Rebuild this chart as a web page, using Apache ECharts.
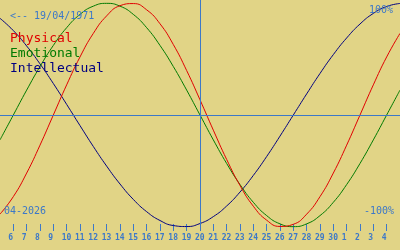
<!DOCTYPE html>
<html>
<head>
<meta charset="utf-8">
<script src="https://cdn.jsdelivr.net/npm/echarts@6/dist/echarts.min.js"></script>
<style>
html,body{margin:0;padding:0;background:#e1d486;}
#c{width:400px;height:250px;}
</style>
</head>
<body>
<div id="c"></div>
<script>
// Days: index 0 = 5 April 2026 ... index 30 = 5 May 2026
var dayIndex = [0,1,2,3,4,5,6,7,8,9,10,11,12,13,14,15,16,17,18,19,20,21,22,23,24,25,26,27,28,29,30];
var physical = [-88.8,-73.1,-52.0,-27.0,0,27.0,52.0,73.1,88.8,97.9,99.8,94.2,81.7,63.1,39.8,13.6,-13.6,-39.8,-63.1,-81.7,-94.2,-99.8,-97.9,-88.8,-73.1,-52.0,-27.0,0,27.0,52.0,73.1];
var emotional = [-22.3,0,22.3,43.4,62.3,78.2,90.1,97.5,100,97.5,90.1,78.2,62.3,43.4,22.3,0,-22.3,-43.4,-62.3,-78.2,-90.1,-97.5,-100,-97.5,-90.1,-78.2,-62.3,-43.4,-22.3,0,22.3];
var intellectual = [86.6,75.6,61.8,45.8,28.2,9.5,-9.5,-28.2,-45.8,-61.8,-75.6,-86.6,-94.5,-99.0,-99.9,-97.2,-91.0,-81.5,-69.0,-54.1,-37.2,-18.9,0,18.9,37.2,54.1,69.0,81.5,91.0,97.2,99.9];
// tick labels for index 1..29
var tickLabels = ['6','7','8','9','10','11','12','13','14','15','16','17','18','19','20','21','22','23','24','25','26','27','28','29','30','1','2','3','4'];
var todayIndex = 15;
var seriesNames = ['Physical','Emotional','Intellectual'];
var colors = ['#e00000','#007a00','#000080'];

var blue = '#3c78c8';
var mono = '"DejaVu Sans Mono", monospace';

function pairs(arr){ return arr.map(function(v,i){ return [dayIndex[i], v]; }); }
var tickVals = tickLabels.map(function(_,i){ return i+1; });

var chart = echarts.init(document.getElementById('c'), null, {renderer:'canvas'});
chart.setOption({
  backgroundColor: '#e1d486',
  animation: false,
  title: [
    {text: '<-- 19/04/1971', left: 10, top: 11, padding: 0,
     textStyle: {fontFamily: mono, fontSize: 10, fontWeight: 'normal', color: blue}},
    {text: '100%', right: 7, top: 5.5, padding: 0,
     textStyle: {fontFamily: mono, fontSize: 10, fontWeight: 'normal', color: blue}},
    {text: '-100%', right: 6, top: 206.5, padding: 0,
     textStyle: {fontFamily: mono, fontSize: 10, fontWeight: 'normal', color: blue}},
    {text: '04-2026', left: 4, top: 206.5, padding: 0,
     textStyle: {fontFamily: mono, fontSize: 10, fontWeight: 'normal', color: blue}},
    {text: '{p|' + seriesNames[0] + '}\n{e|' + seriesNames[1] + '}\n{i|' + seriesNames[2] + '}',
     left: 10, top: 31, padding: 0,
     textStyle: {fontFamily: mono, fontSize: 13, fontWeight: 'normal', lineHeight: 15,
       rich: {
         p: {color: colors[0], fontFamily: mono, fontSize: 13, lineHeight: 15},
         e: {color: colors[1], fontFamily: mono, fontSize: 13, lineHeight: 15},
         i: {color: colors[2], fontFamily: mono, fontSize: 13, lineHeight: 15}
       }}}
  ],
  grid: [
    {left: 0, right: 0, top: 0, bottom: 20}
  ],
  xAxis: [
    {type: 'value', gridIndex: 0, min: 0, max: 30, interval: 1, offset: -6,
     axisLine: {show: false, onZero: false},
     axisTick: {show: true, length: 7, customValues: tickVals, lineStyle: {color: blue, width: 1}},
     axisLabel: {show: false},
     splitLine: {show: false}},
    {type: 'value', gridIndex: 0, position: 'bottom', min: 0.375, max: 30.375,
     axisLine: {show: false, onZero: false}, axisTick: {show: false}, splitLine: {show: false},
     axisLabel: {show: true, margin: 4, align: 'left', color: blue, customValues: tickVals,
       fontFamily: mono, fontSize: 8, fontWeight: 'bold',
       formatter: function(v){ var k = Math.round(v); return (k >= 1 && k <= tickLabels.length) ? tickLabels[k-1] : ''; }}}
  ],
  yAxis: [
    {type: 'value', gridIndex: 0, min: -103, max: 103, show: false}
  ],
  series: [
    {type: 'line', name: 'ref', xAxisIndex: 0, yAxisIndex: 0, data: [], z: 1,
     markLine: {silent: true, symbol: 'none', animation: false,
       label: {show: false},
       lineStyle: {color: blue, width: 1, type: 'solid'},
       data: [{xAxis: todayIndex}, {yAxis: 0}]}},
    {type: 'line', name: seriesNames[2], data: pairs(intellectual), smooth: true, showSymbol: false, z: 2,
     lineStyle: {color: colors[2], width: 1}},
    {type: 'line', name: seriesNames[1], data: pairs(emotional), smooth: true, showSymbol: false, z: 3,
     lineStyle: {color: colors[1], width: 1}},
    {type: 'line', name: seriesNames[0], data: pairs(physical), smooth: true, showSymbol: false, z: 4,
     lineStyle: {color: colors[0], width: 1}}
  ]
});
</script>
</body>
</html>
